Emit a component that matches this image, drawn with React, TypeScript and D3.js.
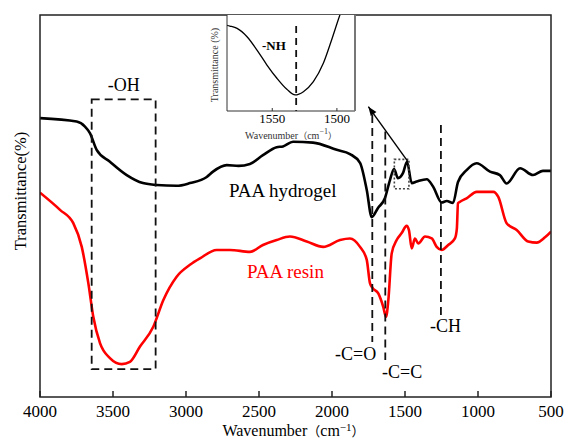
import React from "react";
import * as d3 from "d3";

// FTIR spectra: wavenumber (cm^-1) and relative transmittance
const hydrogelWave = [4000, 3749, 3692, 3658, 3612, 3521, 3406, 3295, 3201, 3064, 2973, 2858, 2815, 2721, 2640, 2562, 2473, 2379, 2336, 2267, 2130, 1968, 1877, 1808, 1762, 1728, 1685, 1637, 1603, 1575, 1548, 1514, 1486, 1454, 1420, 1351, 1308, 1249, 1214, 1171, 1137, 1078, 1009, 918, 850, 804, 712, 623, 555, 500];
const hydrogelT = [73.0, 72.1, 70.8, 69.1, 64.7, 61.6, 58.1, 56.0, 55.5, 55.3, 56.0, 57.6, 59.0, 60.7, 60.5, 61.0, 63.3, 65.4, 65.6, 66.8, 66.6, 64.7, 63.6, 61.3, 54.2, 47.1, 49.5, 52.1, 56.8, 59.7, 57.3, 58.6, 61.6, 56.0, 56.4, 57.0, 55.1, 50.9, 51.3, 50.8, 56.3, 59.4, 61.2, 59.0, 58.1, 55.9, 59.9, 58.1, 59.2, 59.2];

const resinWave = [4000, 3863, 3772, 3714, 3669, 3635, 3589, 3521, 3440, 3384, 3315, 3224, 3155, 3064, 2973, 2904, 2790, 2699, 2562, 2473, 2379, 2288, 2173, 2060, 1945, 1877, 1808, 1762, 1740, 1721, 1683, 1649, 1630, 1614, 1591, 1557, 1523, 1489, 1473, 1454, 1432, 1409, 1363, 1317, 1283, 1249, 1204, 1158, 1145, 1137, 1123, 1078, 1009, 895, 861, 804, 735, 656, 598, 541, 500];
const resinT = [53.5, 49.0, 45.5, 39.3, 29.8, 21.0, 14.1, 10.2, 8.6, 9.2, 13.2, 18.4, 25.4, 31.5, 34.6, 36.3, 38.5, 38.5, 38.0, 39.8, 41.1, 42.0, 40.7, 39.3, 41.1, 41.5, 39.3, 35.9, 29.8, 28.5, 27.1, 23.6, 21.0, 25.4, 37.6, 41.1, 42.9, 44.8, 43.7, 38.9, 41.5, 40.2, 42.0, 41.5, 39.3, 38.5, 39.8, 41.5, 44.0, 50.7, 51.1, 52.0, 53.7, 53.7, 52.4, 45.5, 43.7, 40.7, 40.4, 41.8, 43.3];

// Zoomed -NH band
const insetWave = [1586, 1582.8, 1577.2, 1569.5, 1561.8, 1554.1, 1546.4, 1538.7, 1532.3, 1525.9, 1518.2, 1510.5, 1504.1, 1497.7, 1495];
const insetT = [89.5, 88.5, 86.1, 77.4, 63.5, 47.9, 34.1, 22.6, 16.7, 20.1, 30.5, 49.7, 74.0, 100, 110];

const xTicks = [4000, 3500, 3000, 2500, 2000, 1500, 1000, 500];
const insetTicks = [1550, 1500];

// Band assignments
const ohBand = { from: 3646, to: 3208, top: 77.9, bottom: 7.3 };
const bandLines = [
  { wave: 1724, top: 73.8, bottom: 14.4 },
  { wave: 1635, top: 69.5, bottom: 9.7 },
  { wave: 1254, top: 71.2, bottom: 20.7 },
];
const nhBox = { from: 1573, to: 1473, top: 62.2, bottom: 54.5 };
const nhArrow = { fromWave: 1480, fromT: 61.6, toWave: 1751, toT: 76.0 };
const insetMarker = 1531.5;

const W = 564;
const H = 440;
const M = { left: 40, right: 551, top: 15, bottom: 397 };
const INSET = { left: 227, right: 355, top: 15, bottom: 111 };

const serif = "'Liberation Serif', 'Times New Roman', serif";
const cjkParen = "'Noto Sans CJK SC', 'Liberation Serif', serif";

export default function App() {
  const x = d3.scaleLinear().domain([4000, 500]).range([M.left, M.right]);
  const y = d3.scaleLinear().domain([0, 100]).range([M.bottom, M.top]);

  const xi = d3.scaleLinear().domain([1585, 1486]).range([INSET.left, INSET.right]);
  const yi = d3.scaleLinear().domain([0, 100]).range([INSET.bottom, INSET.top]);

  const line = d3
    .line<[number, number]>()
    .x((d) => x(d[0]))
    .y((d) => y(d[1]))
    .curve(d3.curveMonotoneX);

  const insetLine = d3
    .line<[number, number]>()
    .x((d) => xi(d[0]))
    .y((d) => yi(d[1]))
    .curve(d3.curveMonotoneX);

  const hydrogel = hydrogelWave.map((w, i) => [w, hydrogelT[i]] as [number, number]);
  const resin = resinWave.map((w, i) => [w, resinT[i]] as [number, number]);
  const inset = insetWave.map((w, i) => [w, insetT[i]] as [number, number]);

  const dash = "8,5";
  const ax = x(nhArrow.fromWave);
  const ay = y(nhArrow.fromT);
  const bx = x(nhArrow.toWave);
  const by = y(nhArrow.toT);
  const ang = Math.atan2(by - ay, bx - ax);
  const hl = 9;
  const hw = 3.5;
  const head = [
    [bx, by],
    [bx - hl * Math.cos(ang) + hw * Math.sin(ang), by - hl * Math.sin(ang) - hw * Math.cos(ang)],
    [bx - hl * Math.cos(ang) - hw * Math.sin(ang), by - hl * Math.sin(ang) + hw * Math.cos(ang)],
  ];

  return (
    <svg
      width={W}
      height={H}
      style={{ position: "absolute", left: 0, top: 0, background: "#fff" }}
      fontFamily={serif}
    >
      <defs>
        <clipPath id="plot-clip">
          <rect x={M.left} y={M.top} width={M.right - M.left} height={M.bottom - M.top} />
        </clipPath>
        <clipPath id="inset-clip">
          <rect x={INSET.left} y={INSET.top} width={INSET.right - INSET.left} height={INSET.bottom - INSET.top} />
        </clipPath>
      </defs>

      {/* spectra */}
      <g clipPath="url(#plot-clip)">
        <path d={line(hydrogel) ?? ""} fill="none" stroke="#000" strokeWidth={2.6} strokeLinejoin="round" />
        <path d={line(resin) ?? ""} fill="none" stroke="#ff0000" strokeWidth={2.6} strokeLinejoin="round" />
      </g>

      {/* -OH region */}
      <rect
        x={x(ohBand.from)}
        y={y(ohBand.top)}
        width={x(ohBand.to) - x(ohBand.from)}
        height={y(ohBand.bottom) - y(ohBand.top)}
        fill="none"
        stroke="#111"
        strokeWidth={1.8}
        strokeDasharray={dash}
      />
      <text x={(x(ohBand.from) + x(ohBand.to)) / 2} y={91} fontSize={18} textAnchor="middle">
        -OH
      </text>

      {/* band markers */}
      {bandLines.map((b, i) => (
        <line
          key={i}
          x1={x(b.wave)}
          x2={x(b.wave)}
          y1={y(b.top)}
          y2={y(b.bottom)}
          stroke="#111"
          strokeWidth={1.8}
          strokeDasharray={dash}
        />
      ))}
      <text x={335} y={360} fontSize={18}>-C=O</text>
      <text x={382} y={378} fontSize={18}>-C=C</text>
      <text x={430} y={332} fontSize={18}>-CH</text>

      {/* -NH box and arrow */}
      <rect
        x={x(nhBox.from)}
        y={y(nhBox.top)}
        width={x(nhBox.to) - x(nhBox.from)}
        height={y(nhBox.bottom) - y(nhBox.top)}
        fill="none"
        stroke="#444"
        strokeWidth={1.6}
        strokeDasharray="2,2"
      />
      <line x1={ax} y1={ay} x2={bx} y2={by} stroke="#000" strokeWidth={1.4} />
      <polygon points={head.map((p) => p.join(",")).join(" ")} fill="#000" />

      {/* series labels */}
      <text x={229} y={197} fontSize={19}>PAA hydrogel</text>
      <text x={247} y={278} fontSize={19} fill="#ff0000">PAA resin</text>

      {/* frame and axis */}
      <rect
        x={M.left}
        y={M.top}
        width={M.right - M.left}
        height={M.bottom - M.top}
        fill="none"
        stroke="#222"
        strokeWidth={1.5}
      />
      {xTicks.map((t) => (
        <g key={t}>
          <line x1={x(t)} x2={x(t)} y1={M.bottom} y2={M.bottom - 6} stroke="#222" strokeWidth={1.5} />
          <text x={x(t)} y={417} fontSize={17} textAnchor="middle">
            {t}
          </text>
        </g>
      ))}
      <text x={(M.left + M.right) / 2 - 2} y={436} fontSize={16} textAnchor="middle">
        Wavenumber
        <tspan fontFamily={cjkParen} fontSize={13}>（</tspan>
        cm
        <tspan fontSize={11} dy={-5}>−1</tspan>
        <tspan fontFamily={cjkParen} fontSize={13} dy={5}>）</tspan>
      </text>
      <text
        transform={`translate(26,191) rotate(-90)`}
        fontSize={16.5}
        textAnchor="middle"
      >
        Transmittance(%)
      </text>

      {/* inset */}
      <rect
        x={INSET.left}
        y={INSET.top}
        width={INSET.right - INSET.left}
        height={INSET.bottom - INSET.top}
        fill="#fff"
        stroke="none"
      />
      <g clipPath="url(#inset-clip)">
        <path d={insetLine(inset) ?? ""} fill="none" stroke="#000" strokeWidth={1.3} />
      </g>
      <line
        x1={xi(insetMarker)}
        x2={xi(insetMarker)}
        y1={INSET.top + 11}
        y2={INSET.bottom}
        stroke="#111"
        strokeWidth={1.8}
        strokeDasharray="7,5"
      />
      <line x1={INSET.left} x2={INSET.left} y1={INSET.top} y2={INSET.bottom} stroke="#333" strokeWidth={1} />
      <line x1={INSET.left} x2={INSET.right} y1={INSET.bottom} y2={INSET.bottom} stroke="#333" strokeWidth={1} />
      <line x1={INSET.right} x2={INSET.right} y1={INSET.top} y2={INSET.bottom} stroke="#777" strokeWidth={2} />
      <text x={262} y={50} fontSize={13} fontWeight="bold">-NH</text>
      {insetTicks.map((t) => (
        <g key={t}>
          <line x1={xi(t)} x2={xi(t)} y1={INSET.bottom} y2={INSET.bottom - 3} stroke="#333" strokeWidth={1} />
          <text x={xi(t)} y={123} fontSize={13} textAnchor="middle">
            {t}
          </text>
        </g>
      ))}
      <text x={(INSET.left + INSET.right) / 2} y={139} fontSize={10} textAnchor="middle" fill="#333">
        Wavenumber
        <tspan fontFamily={cjkParen} fontSize={9}>（</tspan>
        cm
        <tspan fontSize={8} dy={-5}>−1</tspan>
        <tspan fontFamily={cjkParen} fontSize={9} dy={5}>）</tspan>
      </text>
      <text
        transform={`translate(218,${(INSET.top + INSET.bottom) / 2 + 2}) rotate(-90)`}
        fontSize={10}
        textAnchor="middle"
        fill="#333"
      >
        Transmittance (%)
      </text>
    </svg>
  );
}
